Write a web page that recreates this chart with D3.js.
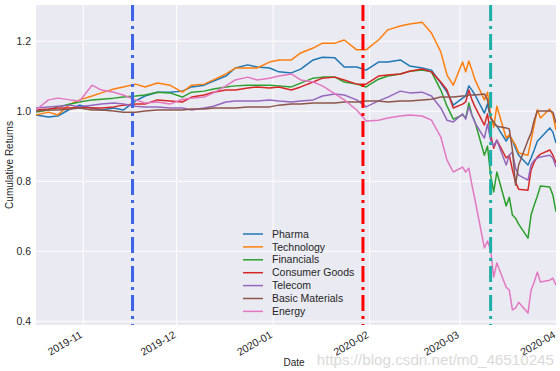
<!DOCTYPE html>
<html>
<head>
<meta charset="utf-8">
<script src="https://cdn.jsdelivr.net/npm/d3@7"></script>
<style>
  body { margin: 0; background: #fff; }
  text { font-family: "Liberation Sans", Arial, sans-serif; fill: #262626; }
</style>
</head>
<body>
<div id="chart"></div>
<script>
const W = 560, H = 371;
const MARGIN = { TOP: 5, BOTTOM: 46, LEFT: 36, RIGHT: 4 };

// fechas (dias de cotizacion muestreados)
var fechas = ["2019-10-17","2019-10-21","2019-10-24","2019-10-28","2019-10-31","2019-11-04","2019-11-07","2019-11-11","2019-11-14","2019-11-18",
  "2019-11-21","2019-11-25","2019-11-29","2019-12-03","2019-12-06","2019-12-10","2019-12-13","2019-12-17","2019-12-20","2019-12-24",
  "2019-12-27","2019-12-31","2020-01-03","2020-01-07","2020-01-10","2020-01-14","2020-01-17","2020-01-21","2020-01-24","2020-01-28",
  "2020-01-31","2020-02-04","2020-02-07","2020-02-11","2020-02-14","2020-02-18","2020-02-21","2020-02-24","2020-02-26","2020-02-28",
  "2020-03-02","2020-03-03","2020-03-04","2020-03-05","2020-03-06","2020-03-09","2020-03-10","2020-03-11","2020-03-12","2020-03-13",
  "2020-03-16","2020-03-17","2020-03-18","2020-03-19","2020-03-20","2020-03-23","2020-03-24","2020-03-25","2020-03-26","2020-03-27",
  "2020-03-30","2020-03-31","2020-04-01"];

var sectores = ["Pharma", "Technology", "Financials", "Consumer Goods", "Telecom", "Basic Materials", "Energy"];

var pharma = [0.988,0.982,0.985,1.005,1.016,1.008,1.002,1.008,1.002,1.028,
  1.042,1.053,1.053,1.056,1.068,1.073,1.085,1.099,1.122,1.131,
  1.125,1.122,1.111,1.108,1.119,1.145,1.153,1.151,1.125,1.125,
  1.116,1.139,1.139,1.145,1.128,1.122,1.116,1.079,1.053,1.016,
  1.036,1.042,1.071,1.059,1.045,0.993,1.019,0.979,0.962,0.956,
  0.913,0.928,0.916,0.893,0.873,0.845,0.865,0.888,0.913,0.922,
  0.951,0.939,0.908];
var technology = [0.988,0.996,0.988,1.019,1.031,1.042,1.051,1.062,1.068,1.076,
  1.068,1.079,1.073,1.053,1.073,1.076,1.088,1.105,1.122,1.122,
  1.122,1.139,1.145,1.145,1.165,1.179,1.193,1.193,1.202,1.174,
  1.174,1.202,1.231,1.242,1.248,1.253,1.222,1.168,1.102,1.073,
  1.139,1.111,1.142,1.116,1.088,1.031,1.053,0.988,0.953,1.013,
  0.922,0.931,0.916,0.902,0.879,0.873,0.916,0.959,1.003,0.979,
  1.005,0.988,0.945];
var financials = [0.996,1.002,1.011,1.019,1.025,1.031,1.033,1.036,1.039,1.042,
  1.045,1.053,1.051,1.039,1.053,1.056,1.062,1.068,1.071,1.073,
  1.073,1.073,1.071,1.068,1.079,1.093,1.096,1.096,1.082,1.076,
  1.068,1.090,1.099,1.105,1.113,1.116,1.111,1.059,1.013,0.976,
  0.988,0.979,1.022,0.988,0.968,0.873,0.899,0.816,0.768,0.825,
  0.728,0.753,0.702,0.693,0.676,0.636,0.702,0.731,0.756,0.785,
  0.782,0.759,0.711];
var consumer = [1.002,1.005,1.008,1.008,1.011,1.008,1.008,1.011,1.016,1.019,
  1.019,1.031,1.028,1.025,1.039,1.045,1.053,1.059,1.059,1.065,
  1.068,1.065,1.068,1.059,1.068,1.082,1.093,1.096,1.088,1.076,
  1.076,1.099,1.102,1.105,1.113,1.119,1.111,1.082,1.059,1.008,
  1.019,1.025,1.059,1.031,1.011,0.959,0.991,0.931,0.893,0.916,
  0.865,0.873,0.831,0.796,0.776,0.773,0.831,0.853,0.868,0.876,
  0.888,0.873,0.851];
var telecom = [1.008,1.011,1.013,1.016,1.011,1.016,1.019,1.022,1.019,1.013,
  1.011,1.011,1.008,1.008,1.002,1.008,1.013,1.025,1.028,1.028,
  1.028,1.031,1.028,1.025,1.028,1.031,1.042,1.048,1.045,1.031,
  1.011,1.028,1.039,1.056,1.051,1.053,1.042,1.008,0.973,0.968,
  0.991,0.976,1.011,0.988,0.965,0.922,0.962,0.916,0.899,0.916,
  0.845,0.873,0.882,0.836,0.816,0.802,0.845,0.859,0.865,0.868,
  0.873,0.865,0.839];
var materials = [0.999,1.002,1.002,1.005,1.008,1.002,1.002,0.999,0.996,0.996,
  0.999,1.002,1.002,1.002,1.005,1.005,1.008,1.008,1.008,1.011,
  1.011,1.011,1.016,1.019,1.019,1.022,1.022,1.022,1.025,1.025,
  1.028,1.028,1.025,1.028,1.028,1.031,1.033,1.039,1.039,1.039,
  1.042,1.042,1.045,1.045,1.045,1.048,1.031,0.979,0.968,0.956,
  0.951,0.948,0.888,0.788,0.845,0.916,0.936,0.973,0.999,0.999,
  0.999,0.996,0.965];
var energy = [1.002,1.031,1.036,1.031,1.028,1.073,1.059,1.053,1.045,1.031,
  1.022,1.025,1.019,1.033,1.036,1.039,1.051,1.071,1.088,1.096,
  1.088,1.093,1.099,1.105,1.088,1.082,1.071,1.048,1.031,1.002,
  0.971,0.973,0.979,0.985,0.988,0.985,0.973,0.925,0.859,0.825,
  0.839,0.825,0.836,0.788,0.745,0.608,0.628,0.602,0.525,0.565,
  0.496,0.488,0.431,0.436,0.453,0.422,0.488,0.511,0.539,0.511,
  0.516,0.522,0.502];

var colores = ["#1f77b4", "#ff7f0e", "#2ca02c", "#d62728", "#9467bd", "#8c564b", "#e377c2"];
var yTicks = [0.4, 0.6, 0.8, 1.0, 1.2];

// eventos marcados con lineas verticales
var eventos = ["2019-11-17", "2020-01-30", "2020-03-11"];
var coloresEventos = ["#3d63e6", "#ff0000", "#1cb0a6"];

var parse = d3.utcParse("%Y-%m-%d");
var dias = fechas.map(parse);
var todas = [pharma, technology, financials, consumer, telecom, materials, energy];
var series = sectores.map(function(s, i) {
  return { nombre: s, color: colores[i], valores: todas[i].map(function(v, j) { return { d: dias[j], v: v }; }) };
});

var width = W - MARGIN.LEFT - MARGIN.RIGHT;
var height = H - MARGIN.TOP - MARGIN.BOTTOM;

var svg = d3.select("#chart").append("svg")
  .attr("width", W).attr("height", H);

var g = svg.append("g")
  .attr("transform", "translate(" + MARGIN.LEFT + "," + MARGIN.TOP + ")");

var x = d3.scaleUtc()
  .domain([parse("2019-10-17"), parse("2020-04-01")])
  .range([0, width]);

var y = d3.scaleLinear()
  .domain([0.388, 1.302])
  .range([height, 0]);

g.append("rect").attr("width", width).attr("height", height).attr("fill", "#eaeaf2");

svg.append("defs").append("clipPath").attr("id", "clip")
  .append("rect").attr("width", width).attr("height", height);

// ejes
var xAxis = g.append("g")
  .attr("transform", "translate(0," + height + ")")
  .call(d3.axisBottom(x).ticks(d3.utcMonth.every(1)).tickFormat(d3.utcFormat("%Y-%m")).tickSize(-height).tickPadding(0));
xAxis.select(".domain").remove();
xAxis.selectAll("line").attr("stroke", "#fff").attr("stroke-width", 1);
xAxis.selectAll("text")
  .attr("font-size", "10.5px")
  .attr("fill", "#262626")
  .attr("text-anchor", "end")
  .attr("dy", "0.75em")
  .attr("y", 0)
  .attr("transform", "translate(-4,5) rotate(-30)");

var yAxis = g.append("g")
  .call(d3.axisLeft(y).tickValues(yTicks).tickFormat(d3.format(".1f")).tickSize(-width).tickPadding(5));
yAxis.select(".domain").remove();
yAxis.selectAll("line").attr("stroke", "#fff").attr("stroke-width", 1);
yAxis.selectAll("text").attr("font-size", "10.5px").attr("fill", "#262626");

// lineas
var linea = d3.line().x(function(d) { return x(d.d); }).y(function(d) { return y(d.v); });

g.append("g").attr("clip-path", "url(#clip)")
  .selectAll("path").data(series).enter()
  .append("path")
  .attr("d", function(d) { return linea(d.valores); })
  .attr("fill", "none")
  .attr("stroke", function(d) { return d.color; })
  .attr("stroke-width", 1.5)
  .attr("stroke-linejoin", "round");

g.append("g").selectAll("line").data(eventos).enter()
  .append("line")
  .attr("x1", function(d) { return x(parse(d)); })
  .attr("x2", function(d) { return x(parse(d)); })
  .attr("y1", 0).attr("y2", height)
  .attr("stroke", function(d, i) { return coloresEventos[i]; })
  .attr("stroke-width", 3)
  .attr("stroke-dasharray", "16,5,3,5");

// leyenda
var ley = g.append("g").attr("transform", "translate(207,229)");
var item = ley.selectAll("g").data(series).enter()
  .append("g")
  .attr("transform", function(d, i) { return "translate(0," + (i * 12.9) + ")"; });
item.append("line").attr("x1", 0).attr("x2", 20)
  .attr("stroke", function(d) { return d.color; }).attr("stroke-width", 1.5);
item.append("text").attr("x", 29).attr("dy", "0.35em")
  .attr("font-size", "10.5px")
  .text(function(d) { return d.nombre; });

// titulos de ejes
svg.append("text")
  .attr("x", MARGIN.LEFT + width / 2 - 2).attr("y", 366)
  .attr("text-anchor", "middle").attr("font-size", "10px")
  .text("Date");

svg.append("text")
  .attr("transform", "translate(12.5," + (MARGIN.TOP + 160) + ") rotate(-90)")
  .attr("text-anchor", "middle").attr("font-size", "10px")
  .text("Cumulative Returns");

// marca de agua
svg.append("text")
  .attr("x", 554).attr("y", 365)
  .attr("text-anchor", "end").attr("font-size", "15.2px")
  .style("fill", "#d4d4d4").style("opacity", 0.85)
  .text("https://blog.csdn.net/m0_46510245");
</script>
</body>
</html>
